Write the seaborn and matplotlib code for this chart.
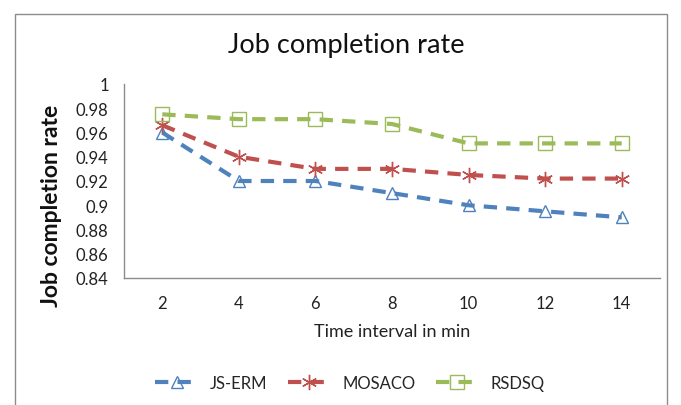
import matplotlib
matplotlib.use("Agg")
import matplotlib.pyplot as plt
import seaborn as sns
from matplotlib.patches import Rectangle

# Data
time_min = [2, 4, 6, 8, 10, 12, 14]
js_erm = [0.960, 0.920, 0.920, 0.910, 0.900, 0.895, 0.890]
mosaco = [0.966, 0.940, 0.930, 0.930, 0.925, 0.922, 0.922]
rsdsq = [0.975, 0.971, 0.971, 0.967, 0.951, 0.951, 0.951]
y_ticks = [0.84, 0.86, 0.88, 0.9, 0.92, 0.94, 0.96, 0.98, 1]
y_tick_labels = ["0.84", "0.86", "0.88", "0.9", "0.92", "0.94", "0.96", "0.98", "1"]

sns.set_style("white")
plt.rcParams['font.family'] = ['Lato', 'DejaVu Sans']

W, H = 681, 406
fig = plt.figure(figsize=(W / 100, H / 100), dpi=100)
fig.patch.set_facecolor("white")

# chart area border
fig.add_artist(Rectangle((15 / W, -0.05), (667 - 15) / W, 1 - 15 / H + 0.05,
                         transform=fig.transFigure, fill=False,
                         edgecolor="#8c8c8c", linewidth=1.0))

ax = fig.add_axes([124 / W, 1 - 279 / H, (660 - 124) / W, (279 - 85) / H])

series = [
    ("JS-ERM", js_erm, "#4F81BD", "^", 8.5),
    ("MOSACO", mosaco, "#C0504D", (6, 2, 0), 11),
    ("RSDSQ", rsdsq, "#9BBB59", "s", 9.5),
]
for name, vals, col, mk, ms in series:
    sns.lineplot(x=time_min, y=vals, ax=ax, color=col, linewidth=3.0,
                 linestyle=(0, (3.2, 2.2)), marker=mk, markersize=ms,
                 markerfacecolor="none", markeredgecolor=col,
                 markeredgewidth=1.0, label=name, legend=False)

ax.set_xlim(1, 15)
ax.set_ylim(0.84, 1.0)
ax.set_yticks(y_ticks)
ax.set_yticklabels(y_tick_labels)
ax.set_xticks(time_min)
ax.set_xticklabels([str(t) for t in time_min])
ax.set_xticks(list(range(1, 16, 2)), minor=True)
ax.tick_params(axis="x", which="major", length=0, pad=12, labelsize=12, colors="#222222")
ax.tick_params(axis="x", which="minor", length=5, width=1, color="#8c8c8c", direction="out")
ax.tick_params(axis="y", which="major", length=5, width=1, color="#8c8c8c",
               direction="out", pad=6, labelsize=12, labelcolor="#222222")
for s in ["top", "right"]:
    ax.spines[s].set_visible(False)
for s in ["left", "bottom"]:
    ax.spines[s].set_color("#8c8c8c")
    ax.spines[s].set_linewidth(1.0)
ax.grid(False)
ax.set_xlabel("Time interval in min", fontsize=13, labelpad=9, color="#222222")
ax.set_ylabel("")

fig.text(52 / W, 1 - 206 / H, "Job completion rate", rotation=90, ha="center",
         va="center", fontsize=16.5, fontweight="bold", color="#111111")
fig.text(346 / W, 1 - 45 / H, "Job completion rate", ha="center", va="center",
         fontsize=19.5, color="#111111")

handles, labels = ax.get_legend_handles_labels()
fig.legend(handles, labels, loc="center", bbox_to_anchor=(350 / W, 1 - 384 / H),
           ncol=3, frameon=False, fontsize=12, handlelength=2.6,
           handletextpad=0.7, columnspacing=1.2)

fig.savefig("out.png", dpi=100, facecolor="white")
